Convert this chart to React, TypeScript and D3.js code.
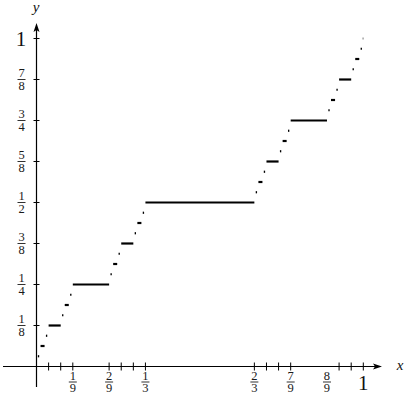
import React from "react";
import * as d3 from "d3";

// Cantor function plateaus (x in 243rds, y in 32nds)
const plateauX0 = [81, 27, 189, 9, 63, 171, 225, 3, 21, 57, 75, 165, 183, 219, 237, 1, 7, 19, 25, 55, 61, 73, 79, 163, 169, 181, 187, 217, 223, 235, 241, 242.6];
const plateauX1 = [162, 54, 216, 18, 72, 180, 234, 6, 24, 60, 78, 168, 186, 222, 240, 2, 8, 20, 26, 56, 62, 74, 80, 164, 170, 182, 188, 218, 224, 236, 242, 243];
const plateauY = [16, 8, 24, 4, 12, 20, 28, 2, 6, 10, 14, 18, 22, 26, 30, 1, 3, 5, 7, 9, 11, 13, 15, 17, 19, 21, 23, 25, 27, 29, 31, 32];

const xTicks = [1 / 27, 2 / 27, 1 / 9, 2 / 9, 7 / 27, 8 / 27, 1 / 3, 2 / 3, 19 / 27, 20 / 27, 7 / 9, 25 / 27, 26 / 27, 1];
const xLabelValues = [1 / 9, 2 / 9, 1 / 3, 2 / 3, 7 / 9, 8 / 9];
const xLabelNum = ["1", "2", "1", "2", "7", "8"];
const xLabelDen = ["9", "9", "3", "3", "9", "9"];

const yTicks = [1 / 8, 2 / 8, 3 / 8, 4 / 8, 5 / 8, 6 / 8, 7 / 8, 1];
const yLabelValues = [1 / 8, 1 / 4, 3 / 8, 1 / 2, 5 / 8, 3 / 4, 7 / 8];
const yLabelNum = ["1", "1", "3", "1", "5", "3", "7"];
const yLabelDen = ["8", "4", "8", "2", "8", "4", "8"];

const W = 410;
const H = 397;
const FONT = "'Liberation Serif', 'Times New Roman', serif";

export default function App() {
  const x = d3.scaleLinear().domain([0, 1]).range([36.5, 363.3]);
  const y = d3.scaleLinear().domain([0, 1]).range([366.5, 38.5]);
  const x0 = x(0);
  const y0 = y(0);

  const Frac = ({ cx, cy, num, den }: { cx: number; cy: number; num: string; den: string }) => (
    <g fontFamily={FONT} fontSize={12.5} fill="#1a1a1a" textAnchor="middle">
      <text x={cx} y={cy - 2.3}>{num}</text>
      <line x1={cx - 4} x2={cx + 4} y1={cy} y2={cy} stroke="#1a1a1a" strokeWidth={0.9} />
      <text x={cx} y={cy + 10.3}>{den}</text>
    </g>
  );

  return (
    <svg
      width={W}
      height={H}
      style={{ position: "absolute", left: 0, top: 0, background: "#fff" }}
    >
      {/* axes */}
      <line x1={3} x2={376} y1={y0} y2={y0} stroke="#000" strokeWidth={1.2} />
      <path d={`M${382},${y0} L${373},${y0 - 3} L${375},${y0} L${373},${y0 + 3} Z`} fill="#000" />
      <line x1={x0} x2={x0} y1={387} y2={30} stroke="#000" strokeWidth={1.2} />
      <path d={`M${x0},${23} L${x0 - 3},${32} L${x0},${30} L${x0 + 3},${32} Z`} fill="#000" />
      <text x={400} y={370} fontFamily={FONT} fontStyle="italic" fontSize={15} textAnchor="middle" fill="#111">x</text>
      <text x={36} y={12} fontFamily={FONT} fontStyle="italic" fontSize={15} textAnchor="middle" fill="#111">y</text>

      {/* x ticks */}
      {xTicks.map((t, i) => (
        <line key={"xt" + i} x1={x(t)} x2={x(t)} y1={y0 - 4} y2={y0 + 4} stroke="#000" strokeWidth={1} />
      ))}
      {/* y ticks */}
      {yTicks.map((t, i) => (
        <line key={"yt" + i} x1={x0 - 3} x2={x0 + 3} y1={y(t)} y2={y(t)} stroke="#000" strokeWidth={1} />
      ))}

      {/* x labels */}
      {xLabelValues.map((v, i) => (
        <Frac key={"xl" + i} cx={x(v)} cy={382} num={xLabelNum[i]} den={xLabelDen[i]} />
      ))}
      <text x={x(1)} y={390} fontFamily={FONT} fontSize={21} textAnchor="middle" fill="#111">1</text>

      {/* y labels */}
      {yLabelValues.map((v, i) => (
        <Frac key={"yl" + i} cx={21.5} cy={y(v)} num={yLabelNum[i]} den={yLabelDen[i]} />
      ))}
      <text x={21} y={46} fontFamily={FONT} fontSize={21} textAnchor="middle" fill="#111">1</text>

      {/* plateaus */}
      {plateauX0.map((a, i) => (
        <line
          key={"p" + i}
          x1={x(a / 243)}
          x2={x(plateauX1[i] / 243)}
          y1={y(plateauY[i] / 32)}
          y2={y(plateauY[i] / 32)}
          stroke="#000"
          strokeWidth={2.2}
        />
      ))}
    </svg>
  );
}
